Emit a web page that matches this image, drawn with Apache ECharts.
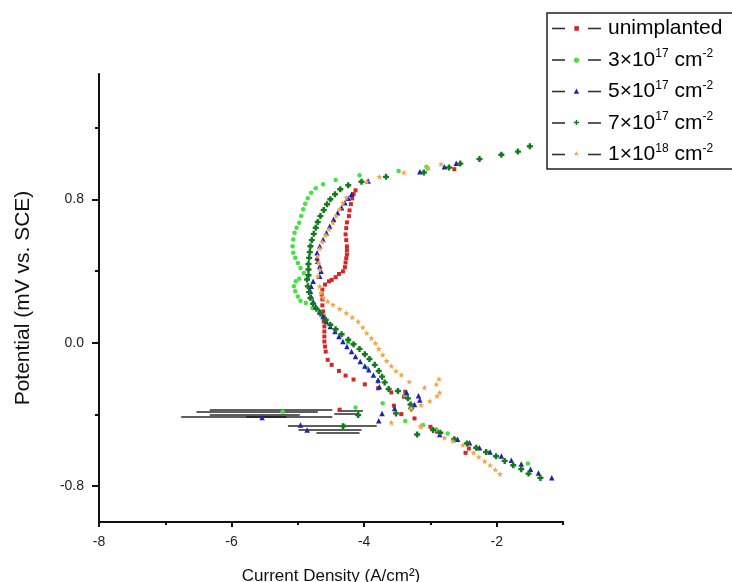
<!DOCTYPE html>
<html>
<head>
<meta charset="utf-8">
<script src="https://cdn.jsdelivr.net/npm/echarts@6/dist/echarts.min.js"></script>
<style>
  html, body { margin: 0; padding: 0; background: #fff; }
  #chart { width: 732px; height: 582px; }
</style>
</head>
<body>
<div id="chart"></div>
<script>
// Tafel scans, log current density vs potential
const seriesNames = ['unimplanted', '3e17', '5e17', '7e17', '1e18']

const unimplanted = [
  [-2.64, 0.969],
  [-4.13, 0.851], [-4.16, 0.830], [-4.18, 0.806], [-4.20, 0.774], [-4.22, 0.739], [-4.23, 0.707],
  [-4.26, 0.672], [-4.27, 0.640], [-4.28, 0.605], [-4.27, 0.573], [-4.26, 0.538], [-4.26, 0.517],
  [-4.26, 0.493], [-4.27, 0.472], [-4.28, 0.448], [-4.29, 0.422], [-4.32, 0.399], [-4.38, 0.384],
  [-4.43, 0.366], [-4.49, 0.351], [-4.53, 0.343], [-4.59, 0.325], [-4.63, 0.297], [-4.64, 0.269],
  [-4.63, 0.242], [-4.63, 0.209], [-4.62, 0.175], [-4.61, 0.147], [-4.61, 0.119], [-4.60, 0.091],
  [-4.60, 0.063], [-4.60, 0.035], [-4.60, 0.007], [-4.59, -0.021], [-4.58, -0.049], [-4.55, -0.095],
  [-4.49, -0.123], [-4.38, -0.157], [-4.28, -0.183], [-4.16, -0.205], [-3.99, -0.232], [-3.79, -0.254],
  [-3.59, -0.277], [-3.38, -0.273], [-3.40, -0.301], [-3.55, -0.351], [-4.37, -0.373],
  [-3.44, -0.398], [-3.24, -0.422], [-3.00, -0.469], [-2.90, -0.496], [-2.64, -0.540],
  [-2.42, -0.590], [-2.47, -0.614]
]

const dose3e17 = [
  [-3.06, 0.983], [-3.04, 0.972], [-3.48, 0.959], [-4.07, 0.935],
  [-4.43, 0.909], [-4.62, 0.885], [-4.73, 0.862], [-4.80, 0.838], [-4.85, 0.806], [-4.89, 0.776],
  [-4.92, 0.745], [-4.95, 0.707], [-4.98, 0.670], [-5.02, 0.642], [-5.05, 0.614], [-5.07, 0.577],
  [-5.08, 0.539], [-5.07, 0.502], [-5.04, 0.474], [-5.00, 0.446], [-4.96, 0.418], [-4.91, 0.390],
  [-4.98, 0.358], [-5.03, 0.343], [-5.06, 0.315], [-5.04, 0.287], [-5.00, 0.259], [-4.96, 0.235],
  [-4.88, 0.222], [-4.78, 0.194], [-4.67, 0.175], [-4.24, 0.003], [-3.96, -0.140], [-3.79, -0.217],
  [-3.39, -0.291], [-3.72, -0.338], [-4.13, -0.361], [-5.23, -0.385], [-4.30, -0.463],
  [-3.38, -0.437], [-3.11, -0.459], [-2.91, -0.484], [-2.74, -0.506], [-2.44, -0.562], [-1.53, -0.674]
]

const dose5e17 = [
  [-2.61, 1.002], [-2.79, 0.982], [-3.16, 0.954], [-3.94, 0.903],
  [-4.19, 0.829], [-4.24, 0.806], [-4.29, 0.782], [-4.34, 0.754], [-4.40, 0.726], [-4.46, 0.689],
  [-4.52, 0.651], [-4.57, 0.614], [-4.62, 0.577], [-4.67, 0.539], [-4.71, 0.502], [-4.71, 0.474],
  [-4.70, 0.455], [-4.67, 0.427], [-4.65, 0.399], [-4.67, 0.371], [-4.77, 0.343], [-4.80, 0.315],
  [-4.81, 0.287], [-4.80, 0.259], [-4.77, 0.231], [-4.73, 0.203], [-4.67, 0.175], [-4.62, 0.147],
  [-4.57, 0.119], [-4.51, 0.091], [-4.44, 0.063], [-4.38, 0.035], [-4.32, 0.007], [-4.26, -0.021],
  [-4.19, -0.049], [-4.13, -0.077], [-4.06, -0.105], [-3.99, -0.129], [-3.93, -0.151], [-3.86, -0.179],
  [-3.79, -0.207], [-3.77, -0.245], [-3.36, -0.277], [-3.18, -0.295], [-3.16, -0.319], [-3.24, -0.344],
  [-3.54, -0.366], [-3.73, -0.394], [-3.78, -0.435], [-5.54, -0.417], [-4.96, -0.459], [-4.86, -0.487],
  [-2.86, -0.512], [-2.59, -0.538], [-2.41, -0.558], [-2.26, -0.586], [-2.10, -0.609], [-1.93, -0.631],
  [-1.78, -0.655], [-1.63, -0.677], [-1.49, -0.705], [-1.37, -0.726], [-1.17, -0.753]
]

const dose7e17 = [
  [-1.50, 1.097], [-1.68, 1.067], [-1.93, 1.049], [-2.26, 1.025], [-2.55, 1.000], [-2.72, 0.978],
  [-3.10, 0.950], [-3.67, 0.926], [-4.04, 0.899],
  [-4.24, 0.879], [-4.36, 0.857], [-4.44, 0.829], [-4.51, 0.801], [-4.56, 0.773], [-4.61, 0.741],
  [-4.66, 0.707], [-4.70, 0.674], [-4.73, 0.642], [-4.76, 0.608], [-4.79, 0.573], [-4.81, 0.539],
  [-4.82, 0.506], [-4.83, 0.474], [-4.84, 0.440], [-4.84, 0.409], [-4.84, 0.377], [-4.86, 0.353],
  [-4.85, 0.315], [-4.83, 0.283], [-4.81, 0.250], [-4.77, 0.218], [-4.72, 0.190], [-4.66, 0.162],
  [-4.58, 0.129], [-4.51, 0.101], [-4.43, 0.076], [-4.34, 0.048], [-4.24, 0.017], [-4.16, -0.008],
  [-4.07, -0.034], [-3.99, -0.064], [-3.92, -0.090], [-3.84, -0.123], [-3.78, -0.157], [-3.73, -0.189],
  [-3.69, -0.221], [-3.63, -0.258], [-3.49, -0.269], [-3.34, -0.310], [-3.30, -0.344], [-3.29, -0.366],
  [-3.52, -0.394], [-4.09, -0.403], [-4.32, -0.465], [-3.20, -0.512],
  [-2.96, -0.487], [-2.85, -0.502], [-2.64, -0.538], [-2.45, -0.562], [-2.31, -0.586], [-2.16, -0.609],
  [-2.01, -0.633], [-1.88, -0.659], [-1.75, -0.683], [-1.63, -0.705], [-1.52, -0.730], [-1.34, -0.754]
]

const dose1e18 = [
  [-2.84, 0.997], [-3.04, 0.978], [-3.40, 0.950], [-3.77, 0.926], [-3.96, 0.899],
  [-4.27, 0.810], [-4.32, 0.782], [-4.37, 0.746], [-4.42, 0.707], [-4.47, 0.670], [-4.53, 0.633],
  [-4.58, 0.601], [-4.63, 0.563], [-4.67, 0.526], [-4.70, 0.483], [-4.69, 0.446], [-4.67, 0.409],
  [-4.70, 0.371], [-4.67, 0.315], [-4.65, 0.278], [-4.61, 0.250], [-4.55, 0.231], [-4.47, 0.213],
  [-4.37, 0.190], [-4.27, 0.166], [-4.18, 0.142], [-4.09, 0.119], [-4.02, 0.086], [-3.96, 0.054],
  [-3.89, 0.026], [-3.83, -0.002], [-3.78, -0.034], [-3.72, -0.067], [-3.66, -0.101], [-3.59, -0.129],
  [-3.52, -0.157], [-3.44, -0.179], [-3.32, -0.217], [-2.87, -0.202], [-2.91, -0.232], [-3.09, -0.250],
  [-2.86, -0.277], [-2.90, -0.297], [-3.01, -0.325], [-3.14, -0.347], [-3.29, -0.366],
  [-3.59, -0.445], [-3.15, -0.463], [-3.14, -0.469],
  [-2.79, -0.530], [-2.66, -0.549], [-2.51, -0.571], [-2.35, -0.613], [-2.27, -0.637], [-2.18, -0.661],
  [-2.10, -0.683], [-2.02, -0.708], [-1.95, -0.732]
]

// black connecting lines in the noisy region near Ecorr
const noiseY = [-0.371, -0.387, -0.401, -0.415, -0.410, -0.463, -0.485, -0.502, -0.378, -0.395]
const noiseFrom = [-6.33, -6.53, -6.33, -6.76, -5.78, -5.15, -4.99, -4.72, -4.40, -4.45]
const noiseTo = [-4.48, -4.70, -4.97, -5.17, -4.48, -3.81, -4.04, -4.07, -4.02, -4.10]

const xTicks = [-8, -6, -4, -2]
const xMinorTicks = [-7, -5, -3, -1]
const yTicks = [-0.8, 0, 0.8]
const yMinorTicks = [-0.4, 0.4, 1.2]

const colors = ['#d82424', '#44e044', '#1e22b8', '#137a1c', '#f2a548']
const symbols = [
  'rect', 'circle', 'triangle',
  'path://M3,0H7V3H10V7H7V10H3V7H0V3H3Z',
  'path://M5,0L6.3,3.5L10,3.6L7.1,5.9L8.1,9.5L5,7.4L1.9,9.5L2.9,5.9L0,3.6L3.7,3.5Z'
]
const sizes = [4, 4.5, 5.5, 6, 6]
const glyphs = ['■', '●', '▲', '✚', '★']
const legendText = [
  '{t|unimplanted}',
  '{t|3×10}{sup|17}{t| cm}{sup|-2}',
  '{t|5×10}{sup|17}{t| cm}{sup|-2}',
  '{t|7×10}{sup|17}{t| cm}{sup|-2}',
  '{t|1×10}{sup|18}{t| cm}{sup|-2}'
]
const allData = [unimplanted, dose3e17, dose5e17, dose7e17, dose1e18]

const rich = {
  t: { fontSize: 21, fontFamily: 'Liberation Sans', color: '#000', lineHeight: 24 },
  sup: { fontSize: 12, fontFamily: 'Liberation Sans', color: '#000', verticalAlign: 'top', lineHeight: 16 },
  ln: { width: 13, height: 1.6, backgroundColor: '#333' },
  g: { width: 7 }
}
colors.forEach((c, i) => {
  rich['s' + i] = { width: 23, align: 'center', fontSize: i === 0 ? 6 : 7, fontFamily: 'DejaVu Sans', color: c }
})

const chart = echarts.init(document.getElementById('chart'))

const option = {
  animation: false,
  backgroundColor: '#fff',
  grid: { left: 99, right: 169, top: 74, bottom: 60, outerBoundsMode: 'none' },
  legend: {
    orient: 'vertical',
    left: 547,
    top: 13,
    itemWidth: 0,
    itemHeight: 0,
    itemGap: 9,
    padding: [5, 30, 4, 0],
    borderColor: '#222',
    borderWidth: 1.5,
    selectedMode: false,
    data: seriesNames,
    formatter: name => {
      const i = seriesNames.indexOf(name)
      return '{ln| }{s' + i + '|' + glyphs[i] + '}{ln| }{g| }' + legendText[i]
    },
    textStyle: { rich }
  },
  xAxis: [
    {
      type: 'value', min: -8, max: -1, interval: 1,
      name: 'Current Density (A/cm²)', nameLocation: 'middle', nameGap: 46,
      nameTextStyle: { fontSize: 17, fontFamily: 'Liberation Sans', color: '#111' },
      axisLine: { onZero: false, lineStyle: { color: '#111', width: 2 } },
      axisTick: { customValues: xTicks, length: 5, lineStyle: { width: 2, color: '#111' } },
      axisLabel: { customValues: xTicks, margin: 13, fontSize: 14, fontFamily: 'Liberation Sans', color: '#222' },
      splitLine: { show: false }
    },
    {
      type: 'value', min: -8, max: -1, interval: 1, position: 'bottom',
      axisLine: { show: false, onZero: false },
      axisTick: { customValues: xMinorTicks, length: 3, lineStyle: { width: 2, color: '#111' } },
      axisLabel: { show: false },
      splitLine: { show: false }
    }
  ],
  yAxis: [
    {
      type: 'value', min: -1, max: 1.5,
      name: 'Potential (mV vs. SCE)', nameLocation: 'middle', nameGap: 65,
      nameTextStyle: { fontSize: 21, fontFamily: 'Liberation Sans', color: '#111' },
      axisLine: { onZero: false, lineStyle: { color: '#111', width: 2 } },
      axisTick: { customValues: yTicks, length: 7, lineStyle: { width: 2, color: '#111' } },
      axisLabel: {
        customValues: yTicks, margin: 15, fontSize: 14, fontFamily: 'Liberation Sans', color: '#222',
        formatter: v => v.toFixed(1)
      },
      splitLine: { show: false }
    },
    {
      type: 'value', min: -1, max: 1.5, position: 'left',
      axisLine: { show: false, onZero: false },
      axisTick: { customValues: yMinorTicks, length: 4, lineStyle: { width: 2, color: '#111' } },
      axisLabel: { show: false },
      splitLine: { show: false }
    }
  ],
  series: [
    {
      type: 'lines',
      coordinateSystem: 'cartesian2d',
      silent: true,
      z: 1,
      lineStyle: { color: '#111', width: 1.6, opacity: 0.9 },
      data: noiseY.map((y, i) => ({ coords: [[noiseFrom[i], y], [noiseTo[i], y]] }))
    },
    ...seriesNames.map((name, i) => ({
      name,
      type: 'scatter',
      z: 3,
      symbol: symbols[i],
      symbolSize: sizes[i],
      itemStyle: { color: colors[i], opacity: 1 },
      data: allData[i]
    }))
  ]
}

chart.setOption(option)
</script>
</body>
</html>
